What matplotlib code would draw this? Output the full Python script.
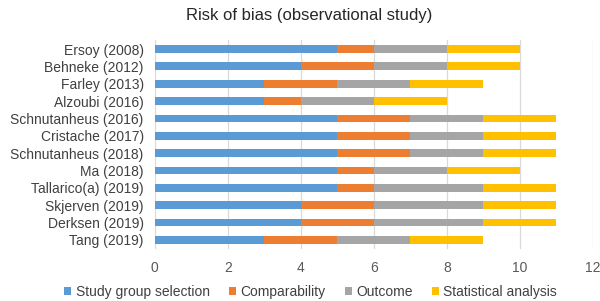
import matplotlib.pyplot as plt
import numpy as np

plt.rcParams['font.family'] = ['Liberation Sans', 'DejaVu Sans']

studies = ['Ersoy (2008)', 'Behneke (2012)', 'Farley (2013)', 'Alzoubi (2016)',
           'Schnutanheus (2016)', 'Cristache (2017)', 'Schnutanheus (2018)',
           'Ma (2018)', 'Tallarico(a) (2019)', 'Skjerven (2019)',
           'Derksen (2019)', 'Tang (2019)']
selection = [5, 4, 3, 3, 5, 5, 5, 5, 5, 4, 4, 3]
comparability = [1, 2, 2, 1, 2, 2, 2, 1, 1, 2, 2, 2]
outcome = [2, 2, 2, 2, 2, 2, 2, 2, 3, 3, 3, 2]
statistical = [2, 2, 2, 2, 2, 2, 2, 2, 2, 2, 2, 2]

series = [
    ('Study group selection', selection, '#5B9BD5'),
    ('Comparability', comparability, '#ED7D31'),
    ('Outcome', outcome, '#A5A5A5'),
    ('Statistical analysis', statistical, '#FFC000'),
]

fig = plt.figure(figsize=(6, 3.01), dpi=100)
ax = fig.add_axes([0.258, 0.174, 0.73, 0.692])

y = np.arange(len(studies))
left = np.zeros(len(studies))
for name, vals, col in series:
    ax.barh(y, vals, left=left, height=0.45, color=col, label=name, zorder=3)
    left += np.array(vals)

ax.set_ylim(len(studies) - 0.5, -0.5)
ax.set_yticks(y)
ax.set_yticklabels(studies, fontsize=10, color='#404040')
ax.set_xlim(0, 12)
ax.set_xticks(range(0, 13, 2))
ax.tick_params(axis='x', labelsize=10, colors='#595959', length=0, pad=9)
ax.tick_params(axis='y', length=0, pad=8)
ax.grid(axis='x', color='#D9D9D9', linewidth=0.9, zorder=0)
for s in ax.spines.values():
    s.set_visible(False)

fig.text(0.515, 0.95, 'Risk of bias (observational study)', ha='center', va='center',
         fontsize=12, color='#262626')
fig.legend(loc='center', bbox_to_anchor=(0.518, 0.03), ncol=4, frameon=False,
           fontsize=10, handlelength=0.5, handleheight=0.5, handletextpad=0.35,
           columnspacing=1.35, labelcolor='#404040')

fig.savefig('out.png', dpi=100)
